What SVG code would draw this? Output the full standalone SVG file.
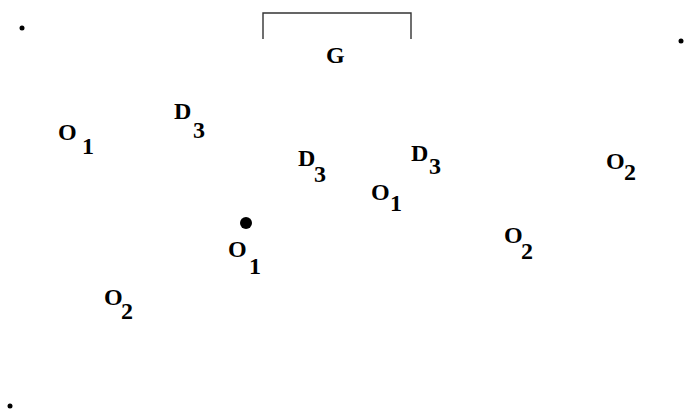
<svg xmlns="http://www.w3.org/2000/svg" width="686" height="415" viewBox="0 0 686 415">
<style>
text { font-family: "Liberation Serif", "Times New Roman", serif; font-weight: bold; font-size: 24px; fill: #000; }
.dot { fill: #000; }
.bracket { fill: none; stroke: #333; stroke-width: 1.4; }
</style>
<rect width="686" height="415" fill="#fff"/>
<g id="corners">
<circle class="dot" cx="22" cy="28" r="2.5"/>
<circle class="dot" cx="681" cy="41" r="2.5"/>
<circle class="dot" cx="10" cy="406" r="2.5"/>
</g>
<g id="G">
<path class="bracket" d="M263,39 V13 H411 V39"/>
<text x="326" y="63">G</text>
</g>
<g id="O1a"><text><tspan x="58" y="140">O</tspan><tspan x="82" y="154">1</tspan></text></g>
<g id="D3a"><text><tspan x="174" y="119">D</tspan><tspan x="193" y="138">3</tspan></text></g>
<g id="D3b"><text><tspan x="298" y="166">D</tspan><tspan x="314" y="182">3</tspan></text></g>
<g id="D3c"><text><tspan x="411" y="161">D</tspan><tspan x="429" y="174">3</tspan></text></g>
<g id="O1b"><text><tspan x="371" y="200">O</tspan><tspan x="390" y="211">1</tspan></text></g>
<g id="O1c">
<circle class="dot" cx="246" cy="223" r="6"/>
<text><tspan x="228" y="257">O</tspan><tspan x="249" y="274">1</tspan></text>
</g>
<g id="O2a"><text><tspan x="606" y="169">O</tspan><tspan x="624" y="180">2</tspan></text></g>
<g id="O2b"><text><tspan x="504" y="243">O</tspan><tspan x="521" y="259">2</tspan></text></g>
<g id="O2c"><text><tspan x="104" y="305">O</tspan><tspan x="121" y="319">2</tspan></text></g>
<g id="connectors"></g>
</svg>
